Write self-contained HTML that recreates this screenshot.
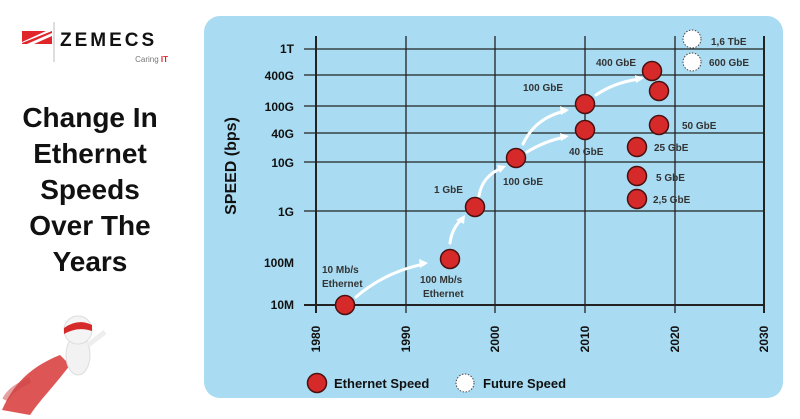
<!DOCTYPE html>
<html><head><meta charset="utf-8"><style>
html,body{margin:0;padding:0;background:#fff;}
body{width:800px;height:419px;overflow:hidden;position:relative;font-family:"Liberation Sans",sans-serif;}
.title{position:absolute;left:0;width:180px;top:100px;text-align:center;font-weight:bold;font-size:28px;line-height:36px;color:#111;}
</style></head><body>
<svg width="800" height="419" style="position:absolute;left:0;top:0" font-family="Liberation Sans, sans-serif">
<!-- logo -->
<polygon points="22,31 46,31 22,42" fill="#e0262b"/>
<polygon points="52,31 52,33 27,44 22,44 22,43 " fill="#e0262b"/>
<polygon points="52,36 52,44 34,44" fill="#e0262b"/>
<line x1="54" y1="22" x2="54" y2="62" stroke="#bbb" stroke-width="1"/>
<text x="60" y="46" font-size="19" font-weight="bold" fill="#111" letter-spacing="3">ZEMECS</text>
<text x="168" y="62" font-size="8" fill="#777" text-anchor="end">Caring <tspan fill="#e0262b" font-weight="bold">IT</tspan></text>
<!-- superhero -->
<g>
<path d="M2,410 C15,380 35,365 60,355 L70,365 C55,385 40,400 30,415 Z" fill="#d62a2a" opacity="0.8"/>
<path d="M5,400 C10,390 20,385 30,380" stroke="#c44" stroke-width="6" fill="none" opacity="0.5"/>
<ellipse cx="78" cy="355" rx="12" ry="20" fill="#f2f2f2" stroke="#ddd"/>
<circle cx="78" cy="330" r="14" fill="#f4f4f4" stroke="#ddd"/>
<path d="M64,328 Q78,318 92,325 L92,331 Q78,326 64,334Z" fill="#d62a2a"/>
<line x1="88" y1="345" x2="105" y2="332" stroke="#eee" stroke-width="5"/>
</g>
<!-- panel -->
<rect x="204" y="16" width="579" height="382" rx="16" fill="#a9dcf3"/>
<!-- grid -->
<g stroke="#222" stroke-width="1.3">
<line x1="304" y1="49" x2="764" y2="49"/>
<line x1="304" y1="75" x2="764" y2="75"/>
<line x1="304" y1="106" x2="764" y2="106"/>
<line x1="304" y1="133" x2="764" y2="133"/>
<line x1="304" y1="162" x2="764" y2="162"/>
<line x1="304" y1="211" x2="764" y2="211"/>
<line x1="304" y1="305" x2="764" y2="305" stroke-width="2"/>
<line x1="316" y1="36" x2="316" y2="313" stroke-width="2"/>
<line x1="406" y1="36" x2="406" y2="313"/>
<line x1="495" y1="36" x2="495" y2="313"/>
<line x1="585" y1="36" x2="585" y2="313"/>
<line x1="675" y1="36" x2="675" y2="313"/>
<line x1="764" y1="36" x2="764" y2="313" stroke-width="2"/>
</g>
<g font-size="12" font-weight="bold" fill="#111" text-anchor="end">
<text x="294" y="53">1T</text><text x="294" y="80">400G</text><text x="294" y="111">100G</text>
<text x="294" y="138">40G</text><text x="294" y="167">10G</text><text x="294" y="216">1G</text>
<text x="294" y="267">100M</text><text x="294" y="309">10M</text>
</g>
<text transform="translate(236,166) rotate(-90)" font-size="16" font-weight="bold" fill="#111" text-anchor="middle">SPEED (bps)</text>
<g font-size="12" font-weight="bold" fill="#111" text-anchor="middle">
<text transform="translate(320,339) rotate(-90)">1980</text>
<text transform="translate(410,339) rotate(-90)">1990</text>
<text transform="translate(499,339) rotate(-90)">2000</text>
<text transform="translate(589,339) rotate(-90)">2010</text>
<text transform="translate(679,339) rotate(-90)">2020</text>
<text transform="translate(768,339) rotate(-90)">2030</text>
</g>
<!-- arrows -->
<g stroke="#fff" stroke-width="3" fill="none" stroke-linecap="round">
<path d="M356,297 Q385,272 424,264"/>
<path d="M450,243 Q452,228 462,219"/>
<path d="M479,196 Q482,176 502,168"/>
<path d="M523,144 Q535,118 565,111"/>
<path d="M527,152 Q545,141 565,137"/>
<path d="M596,95 Q615,82 640,79"/>
</g>
<g fill="#fff">
<polygon points="428,263 419,259 420,268"/>
<polygon points="465,215 456,220 464,224"/>
<polygon points="506,166 497,165 500,173"/>
<polygon points="569,110 560,106 561,115"/>
<polygon points="569,136 560,133 561,141"/>
<polygon points="644,78 635,75 636,83"/>
</g>
<!-- points -->
<g fill="#d62a2a" stroke="#4a1010" stroke-width="1.5">
<circle cx="345" cy="305" r="9.5"/><circle cx="450" cy="259" r="9.5"/>
<circle cx="475" cy="207" r="9.5"/><circle cx="516" cy="158" r="9.5"/>
<circle cx="585" cy="104" r="9.5"/><circle cx="585" cy="130" r="9.5"/>
<circle cx="652" cy="71" r="9.5"/><circle cx="659" cy="91" r="9.5"/>
<circle cx="659" cy="125" r="9.5"/><circle cx="637" cy="147" r="9.5"/>
<circle cx="637" cy="176" r="9.5"/><circle cx="637" cy="199" r="9.5"/>
<circle cx="317" cy="383" r="9.5"/>
</g>
<g fill="#fff" stroke="#444" stroke-width="1" stroke-dasharray="1.5,1.5">
<circle cx="692" cy="39" r="9"/><circle cx="692" cy="62" r="9"/>
<circle cx="465" cy="383" r="9"/>
</g>
<g font-size="10" font-weight="bold" fill="#333">
<text x="711" y="45">1,6 TbE</text><text x="709" y="66">600 GbE</text>
<text x="596" y="66">400 GbE</text><text x="523" y="91">100 GbE</text>
<text x="682" y="129">50 GbE</text><text x="654" y="151">25 GbE</text>
<text x="656" y="181">5 GbE</text><text x="653" y="203">2,5 GbE</text>
<text x="569" y="155">40 GbE</text><text x="503" y="185">100 GbE</text>
<text x="434" y="193">1 GbE</text>
<text x="322" y="273">10 Mb/s</text><text x="322" y="287">Ethernet</text>
<text x="420" y="283">100 Mb/s</text><text x="423" y="297">Ethernet</text>
</g>
<g font-size="13" font-weight="bold" fill="#111">
<text x="334" y="388">Ethernet Speed</text>
<text x="483" y="388">Future Speed</text>
</g>
</svg>
<div class="title">Change In<br>Ethernet<br>Speeds<br>Over The<br>Years</div>
</body></html>
